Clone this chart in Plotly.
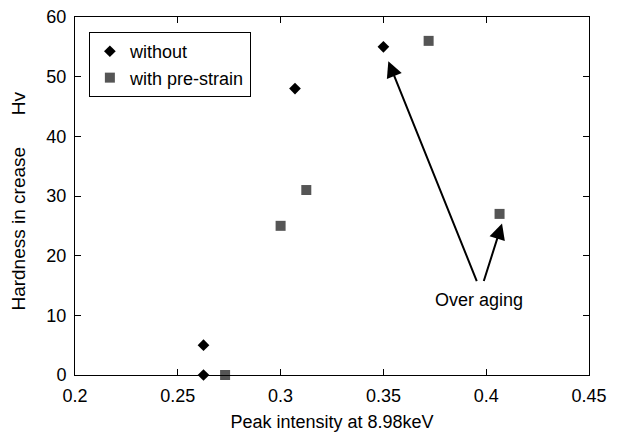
import plotly.graph_objects as go

without_x = [0.2625, 0.2625, 0.307, 0.350]
without_y = [5, 0, 48, 55]
pre_x = [0.273, 0.300, 0.3125, 0.372, 0.4065]
pre_y = [0, 25, 31, 56, 27]

x_ticks = [0.2, 0.25, 0.3, 0.35, 0.4, 0.45]
x_tick_labels = ["0.2", "0.25", "0.3", "0.35", "0.4", "0.45"]
y_ticks = [0, 10, 20, 30, 40, 50, 60]

arrow_tails = [(0.3957, 15.5), (0.3986, 15.5)]
arrow_heads = [(0.3524, 52.6), (0.4077, 25.4)]
label_pos = (0.3967, 12.5)

font = "Liberation Sans, Arial, sans-serif"
FS = 18

fig = go.Figure()
fig.add_trace(go.Scatter(x=without_x, y=without_y, mode="markers", name="without",
                         marker=dict(symbol="diamond", size=9, color="black"),
                         cliponaxis=False))
fig.add_trace(go.Scatter(x=pre_x, y=pre_y, mode="markers", name="with pre-strain",
                         marker=dict(symbol="square", size=10, color="#555555"),
                         cliponaxis=False))

for (tx, ty), (hx, hy) in zip(arrow_tails, arrow_heads):
    fig.add_annotation(x=hx, y=hy, ax=tx, ay=ty,
                       xref="x", yref="y", axref="x", ayref="y",
                       showarrow=True, arrowhead=2, arrowsize=1.6, arrowwidth=2,
                       arrowcolor="black", text="")
fig.add_annotation(x=label_pos[0], y=label_pos[1], xref="x", yref="y",
                   text="Over aging", showarrow=False,
                   font=dict(size=FS, color="black", family=font))

axis_common = dict(showline=True, linecolor="black", linewidth=1, mirror="ticks",
                   ticks="inside", ticklen=6, tickcolor="black", showgrid=False,
                   zeroline=False, automargin=False, ticklabeloverflow="allow",
                   tickfont=dict(size=FS, color="black", family=font))

fig.update_xaxes(range=[0.2, 0.45], tickvals=x_ticks, ticktext=x_tick_labels,
                 ticklabelstandoff=4,
                 title=dict(text="Peak intensity at 8.98keV", font=dict(size=FS, color="black", family=font), standoff=10),
                 **axis_common)
fig.update_yaxes(range=[0, 60], tickvals=y_ticks,
                 ticklabelstandoff=4,
                 title=dict(text="Hardness in crease&nbsp;&nbsp;&nbsp;&nbsp;&nbsp;&nbsp;Hv&nbsp;&nbsp;", font=dict(size=19, color="black", family=font), standoff=17),
                 **axis_common)

fig.update_layout(
    width=621, height=436,
    margin=dict(l=67, r=40, t=9, b=69),
    plot_bgcolor="white", paper_bgcolor="white",
    font=dict(family=font, color="black"),
    legend=dict(x=0.027, y=0.958, xanchor="left", yanchor="top",
                bordercolor="black", borderwidth=1, bgcolor="white",
                font=dict(size=FS, family=font, color="black"),
                itemwidth=30, tracegroupgap=0),
)

fig.write_html("out.html")
